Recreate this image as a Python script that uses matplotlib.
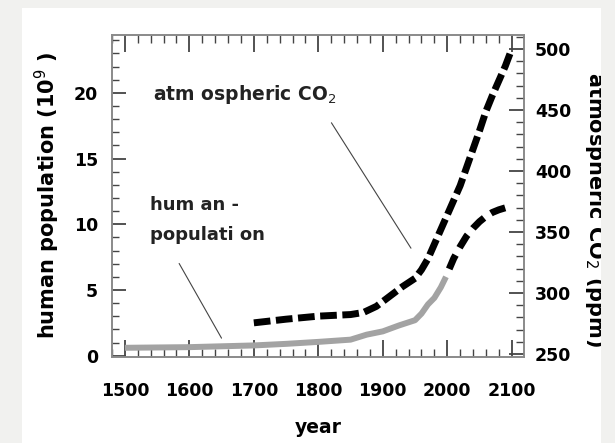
import matplotlib
matplotlib.use("Agg")
import matplotlib.pyplot as plt
from matplotlib.patches import Rectangle
from matplotlib.ticker import MultipleLocator

# ---- data ----
co2_years = [1700, 1750, 1800, 1850, 1870, 1890, 1910, 1930, 1950, 1960, 1970,
             1980, 1990, 2000, 2010, 2020, 2030, 2040, 2050, 2060, 2070, 2080,
             2090, 2100]
co2_ppm = [275.5, 278.5, 281, 282.3, 284, 289, 297, 305, 312, 319, 328,
           340, 352, 364, 376, 388, 403, 418, 433, 449, 462, 474,
           486, 500]

pop_years = [1500, 1600, 1700, 1750, 1800, 1850, 1875, 1900, 1925, 1950,
             1960, 1970, 1980, 1990, 1998]
pop_values = [0.6, 0.65, 0.78, 0.9, 1.05, 1.22, 1.6, 1.85, 2.3, 2.7,
              3.2, 3.9, 4.4, 5.2, 6.0]

proj_years = [2003, 2010, 2020, 2030, 2040, 2050, 2060, 2070, 2080, 2090]
proj_values = [6.6, 7.4, 8.3, 9.1, 9.7, 10.2, 10.6, 10.9, 11.1, 11.25]

x_ticks = [1500, 1600, 1700, 1800, 1900, 2000, 2100]
left_ticks = [0, 5, 10, 15, 20]
right_ticks = [250, 300, 350, 400, 450, 500]

# ---- figure ----
W, H = 615, 443
fig = plt.figure(figsize=(W / 100, H / 100), dpi=100)
fig.patch.set_facecolor("#f1f1ef")
fig.patches.append(Rectangle((22 / W, 0), (601 - 22) / W, (443 - 8) / H,
                             transform=fig.transFigure, facecolor="white",
                             edgecolor="none", zorder=-1))

ax = fig.add_axes([112 / W, (H - 357) / H, (524 - 112) / W, (357 - 35) / H])
ax2 = ax.twinx()

spine_col = "#8a8a8a"
tick_col = "#444444"
fp = dict(family="DejaVu Sans", weight="bold")

ax.set_xlim(1480, 2119)
ax.set_ylim(-0.1, 24.4)
ax2.set_ylim(247.5, 511.5)

# population (grey) and projection (black dashed)
ax.plot(pop_years, pop_values, color="#a3a3a3", lw=4.3, solid_capstyle="butt",
        zorder=3)
ax.plot(proj_years, proj_values, color="black", lw=5.0, dashes=(2.2, 1.2),
        solid_capstyle="butt", zorder=3)
# CO2 (black dashed) on right axis
ax2.plot(co2_years, co2_ppm, color="black", lw=5.0, dashes=(2.4, 0.8),
         zorder=3)

# ticks
ax.xaxis.set_minor_locator(MultipleLocator(20))
ax.set_xticks(x_ticks)
ax.set_xticklabels([str(t) for t in x_ticks], fontsize=12.5, **fp)
ax.yaxis.set_minor_locator(MultipleLocator(1))
ax.set_yticks(left_ticks)
ax.set_yticklabels([str(t) for t in left_ticks], fontsize=12.5, **fp)
ax2.yaxis.set_minor_locator(MultipleLocator(10))
ax2.set_yticks(right_ticks)
ax2.set_yticklabels([str(t) for t in right_ticks], fontsize=12.5, **fp)

ax.tick_params(axis="x", which="both", direction="in", top=True, bottom=True,
               color=tick_col)
ax.tick_params(axis="x", which="major", length=12, width=1.3, pad=18)
ax.tick_params(axis="x", which="minor", length=6, width=1.0)
ax.tick_params(axis="y", which="both", direction="in", left=True, right=False,
               color=tick_col)
ax.tick_params(axis="y", which="major", length=10, width=1.3, pad=10)
ax.tick_params(axis="y", which="minor", length=5, width=1.0)
ax2.tick_params(axis="y", which="both", direction="in", right=True,
                color=tick_col)
ax2.tick_params(axis="y", which="major", length=11, width=1.3, pad=8)
ax2.tick_params(axis="y", which="minor", length=6, width=1.0)

for a in (ax, ax2):
    for s in a.spines.values():
        s.set_color(spine_col)
        s.set_linewidth(1.2)

# axis labels
ax.set_xlabel("year", fontsize=13.5, **fp)
ax.xaxis.set_label_coords(0.5, -0.22)
ax.xaxis.label.set_va("center")
ax.set_ylabel("human population (10$^{9}$ )", fontsize=15, **fp)
ax.yaxis.set_label_coords(-0.158, 0.503)
ax.yaxis.label.set_va("center")
ax2.set_ylabel("atmospheric CO$_2$ (ppm)", fontsize=15, rotation=270, **fp)
ax2.yaxis.set_label_coords(1.172, 0.457)
ax2.yaxis.label.set_va("center")
ax2.yaxis.label.set_ha("center")

# in-plot annotations
ax.text(1543, 19.9, "atm ospheric CO$_2$", fontsize=13.5, ha="left",
        va="center", color="#222222", **fp)
ax.annotate("", xy=(1946, 8.0), xytext=(1818, 17.9),
            arrowprops=dict(arrowstyle="-", color="#444444", lw=0.8))
ax.text(1539, 11.45, "hum an -", fontsize=13, ha="left", va="center",
        color="#222222", **fp)
ax.text(1539, 9.16, "populati on", fontsize=13, ha="left", va="center",
        color="#222222", **fp)
ax.annotate("", xy=(1652, 1.15), xytext=(1582, 7.2),
            arrowprops=dict(arrowstyle="-", color="#444444", lw=0.8))

# grey margin covering the right edge (clips the right label as in the source)
fig.patches.append(Rectangle((601 / W, 0), 1 - 601 / W, 1,
                             transform=fig.transFigure, facecolor="#f1f1ef",
                             edgecolor="none", zorder=10))

fig.savefig("out.png", dpi=100, facecolor=fig.get_facecolor())
